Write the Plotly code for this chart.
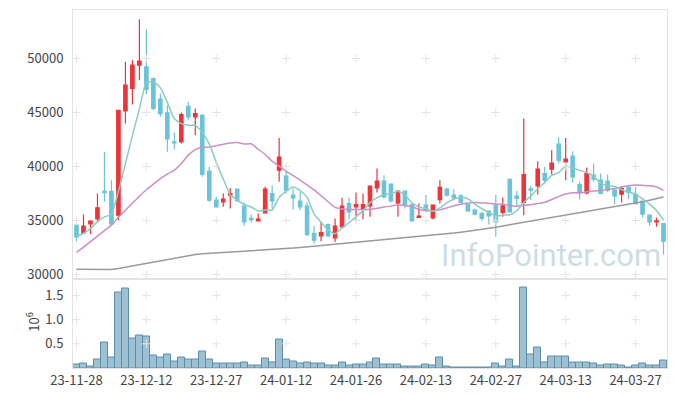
import plotly.graph_objects as go
import pandas as pd

dates = ["23-11-28","23-11-29","23-11-30",
 "23-12-01","23-12-04","23-12-05","23-12-06","23-12-07","23-12-08","23-12-11","23-12-12","23-12-13","23-12-14","23-12-15",
 "23-12-18","23-12-19","23-12-20","23-12-21","23-12-22","23-12-26","23-12-27","23-12-28",
 "24-01-02","24-01-03","24-01-04","24-01-05","24-01-08","24-01-09","24-01-10","24-01-11","24-01-12",
 "24-01-15","24-01-16","24-01-17","24-01-18","24-01-19","24-01-22","24-01-23","24-01-24","24-01-25","24-01-26",
 "24-01-29","24-01-30","24-01-31","24-02-01","24-02-02","24-02-05","24-02-06","24-02-07","24-02-08",
 "24-02-13","24-02-14","24-02-15","24-02-16","24-02-19","24-02-20","24-02-21","24-02-22","24-02-23",
 "24-02-26","24-02-27","24-02-28","24-02-29",
 "24-03-04","24-03-05","24-03-06","24-03-07","24-03-08","24-03-11","24-03-12","24-03-13","24-03-14","24-03-15",
 "24-03-18","24-03-19","24-03-20","24-03-21","24-03-22","24-03-25","24-03-26","24-03-27","24-03-28","24-03-29",
 "24-04-01","24-04-02"]

opens = [34560,33860,34690,35150,37710,37710,35490,45150,47220,49380,
         49220,48150,46230,44970,42280,42280,45580,44600,44750,39570,
         36880,36730,37350,37900,36330,35190,34970,35710,37500,39660,
         39100,37350,36790,36330,33800,33580,34630,33400,34410,36570,
         36270,36110,36360,38020,38640,38360,36640,37720,36480,35280,
         36420,35250,36940,37900,37350,37280,36480,35960,35650,35860,
         36420,35740,38800,37250,36670,37930,38210,39350,39750,42070,
         40430,40960,38330,37560,39200,38730,38640,37810,37440,38060,
         37410,36790,35490,34880,34720]
highs = [34820,35550,35030,37500,41350,38730,45210,49690,49840,53640,
         52680,48240,46760,45680,43120,45000,45990,45370,44750,39970,
         37190,37500,38020,37960,36670,35560,35650,38120,38270,42650,
         39600,37960,37650,36670,34480,34880,34720,35190,37100,37100,
         37590,37500,38180,39810,39200,38360,37810,37720,36480,36570,
         37350,36420,38730,38020,37900,37440,36570,36110,35800,35960,
         37350,37130,38890,37720,44440,38210,40490,39970,41510,42680,
         42650,41420,38580,39910,40280,39350,39260,37960,38120,38210,
         38120,36820,35590,35280,34780]
lows = [33080,33800,33760,34880,36730,34570,35030,43980,45740,47990,
        46690,45210,44600,41360,41570,42130,44290,42900,39040,36730,
        36170,36270,36110,36730,34510,34810,34970,35710,36110,38580,
        37500,36020,35960,33580,32870,33090,33490,33020,34350,35120,
        35030,35120,35340,37590,37040,36670,35340,36110,34970,35280,
        35740,35120,36570,37190,36880,36570,35800,35490,34970,34630,
        33490,35340,35800,36270,35490,36880,37410,38430,39260,40280,
        38730,38520,36940,37440,38580,37440,37650,36510,36670,36970,
        36480,35280,34510,34410,31850]
closes = [33480,34480,34940,36170,37590,34690,45210,47530,49380,49750,
          47130,45370,44900,42560,42190,44810,44600,44900,39260,36880,
          36270,36970,37500,36820,34880,35090,35120,37900,36820,40860,
          37810,37100,36270,33700,33180,33890,33580,34480,36330,35800,
          36480,36480,38180,38640,37190,36820,37720,36420,34970,35400,
          35960,36420,38060,37350,37100,36670,35900,35590,35190,35430,
          34880,36360,35800,37040,39260,37810,39750,38730,40310,40590,
          40680,39040,37590,39350,38830,37500,37810,37280,37960,37590,
          36570,35590,34880,34970,33090]
volumes = [76000,96000,32000,180000,520000,220000,1556000,1640000,606000,665000,
           650000,260000,220000,280000,140000,220000,180000,180000,340000,180000,
           83000,96000,96000,83000,117000,55000,55000,193000,117000,585000,
           180000,140000,83000,117000,83000,83000,55000,55000,110000,55000,
           69000,69000,110000,193000,69000,69000,69000,41000,41000,41000,
           69000,55000,213000,41000,14000,14000,14000,14000,14000,14000,
           83000,41000,172000,41000,1674000,275000,420000,124000,234000,234000,
           234000,110000,124000,110000,90000,48000,69000,69000,48000,20000,
           48000,90000,48000,48000,150000]
# moving-average values for days whose window starts before the visible range
ma5_head = [33580,33800,34260,34880]
ma20_head = [32040,32530,33050,33550,34070,34570,35300,35950,36600,37250,
             37850,38360,38880,39290,39660,40280,41050,41570,41790]
ma120 = [30490,30480,30470,30465,30460,30470,30560,30680,30800,30930,
         31060,31180,31300,31420,31530,31640,31750,31850,31920,31960,
         31990,32020,32050,32080,32110,32150,32190,32230,32280,32330,
         32390,32450,32510,32570,32630,32690,32750,32810,32860,32910,
         32960,33010,33060,33120,33180,33240,33300,33360,33420,33480,
         33550,33620,33690,33760,33840,33920,34000,34090,34180,34280,
         34380,34490,34600,34710,34820,34930,35040,35150,35260,35370,
         35480,35590,35700,35810,35920,36030,36140,36250,36360,36480,
         36610,36740,36880,37030,37180]

price_ticks = [30000, 35000, 40000, 45000, 50000]
vol_ticks = [0.5, 1.0, 1.5]
vol_tick_text = ["0.5", "1.0", "1.5"]
x_tick_idx = list(range(0, 85, 10))

cs = pd.Series(closes, dtype=float)
ma5 = cs.rolling(5).mean().tolist()
ma5[:4] = ma5_head
ma20 = cs.rolling(20).mean().tolist()
ma20[:19] = ma20_head

UP = "#ee3339"
DOWN = "#6cc3d9"
FONT = "Noto Sans CJK KR"

fig = go.Figure()
fig.add_trace(go.Candlestick(
    x=dates, open=opens, high=highs, low=lows, close=closes,
    xaxis="x2", yaxis="y",
    increasing=dict(line=dict(color=UP, width=1.2), fillcolor=UP),
    decreasing=dict(line=dict(color=DOWN, width=1.2), fillcolor=DOWN),
    whiskerwidth=0, hoverinfo="skip", showlegend=False))
fig.add_trace(go.Scatter(x=dates, y=ma120, mode="lines", xaxis="x2", yaxis="y",
                         line=dict(color="#9a9a9a", width=1.5), showlegend=False, hoverinfo="skip"))
fig.add_trace(go.Scatter(x=dates, y=ma20, mode="lines", xaxis="x2", yaxis="y",
                         line=dict(color="#cc8fc6", width=1.5, shape="spline", smoothing=0.5),
                         showlegend=False, hoverinfo="skip"))
fig.add_trace(go.Scatter(x=dates, y=ma5, mode="lines", xaxis="x2", yaxis="y",
                         line=dict(color="#8acdc2", width=1.5, shape="spline", smoothing=0.5),
                         showlegend=False, hoverinfo="skip"))

fig.add_trace(go.Bar(x=dates, y=[v / 1e6 for v in volumes], xaxis="x", yaxis="y2",
                     marker=dict(color="rgba(132,178,199,0.8)", line=dict(color="#5b8fa9", width=1)),
                     showlegend=False, hoverinfo="skip"))

# grid crosses at tick intersections
cx, cy = [], []
for i in x_tick_idx:
    for p in price_ticks:
        cx.append(dates[i]); cy.append(p)
fig.add_trace(go.Scatter(x=cx, y=cy, mode="markers", xaxis="x2", yaxis="y",
                         marker=dict(symbol="cross-thin", size=6, line=dict(color="#e4e4e4", width=1)),
                         showlegend=False, hoverinfo="skip"))
vx, vy = [], []
for i in x_tick_idx:
    for v in vol_ticks:
        vx.append(dates[i]); vy.append(v)
fig.add_trace(go.Scatter(x=vx, y=vy, mode="markers", xaxis="x", yaxis="y2",
                         marker=dict(symbol="cross-thin", size=6, line=dict(color="#e4e4e4", width=1)),
                         showlegend=False, hoverinfo="skip"))

axis_common = dict(showline=True, mirror=True, linecolor="#e3e3e3", linewidth=1,
                   showgrid=False, zeroline=False, ticks="", automargin=False)
xcommon = dict(type="category", categoryorder="array", categoryarray=dates,
               range=[-0.5, 84.5], tickvals=[dates[i] for i in x_tick_idx], **axis_common)

# page body has an 8px margin, so the figure is sized/margined to land the plot where the reference has it
fig.update_layout(
    width=669, height=388,
    margin=dict(l=64.5, r=9.5, t=2, b=28.3),
    paper_bgcolor="white", plot_bgcolor="white",
    font=dict(family=FONT, size=13, color="#444444"),
    bargap=0, showlegend=False,
    xaxis=dict(anchor="y2", domain=[0, 1], showticklabels=True,
               tickfont=dict(size=13, color="#444444"), **xcommon),
    xaxis2=dict(anchor="y", domain=[0, 1], matches="x", showticklabels=False,
                rangeslider=dict(visible=False), **xcommon),
    yaxis=dict(domain=[0.25, 1], range=[29630, 54490], tickvals=price_ticks, tickformat="d",
               ticklabelstandoff=6, tickfont=dict(size=13, color="#444444"), **axis_common),
    yaxis2=dict(domain=[0, 0.25], range=[0, 1.85], tickvals=vol_ticks, ticktext=vol_tick_text,
                ticklabelstandoff=6, tickfont=dict(size=13, color="#444444"), **axis_common),
    annotations=[
        dict(text="InfoPointer.com", xref="paper", yref="paper", x=0.805, y=0.315,
             xanchor="center", yanchor="middle", showarrow=False,
             font=dict(family="Roboto", size=31, color="rgba(170,198,214,0.6)")),
        dict(text="10<sup>6</sup>", xref="paper", yref="paper", x=-0.068, y=0.128,
             xanchor="center", yanchor="middle", textangle=-90, showarrow=False,
             font=dict(family=FONT, size=13, color="#444444")),
    ],
)

fig.write_html("out.html")
